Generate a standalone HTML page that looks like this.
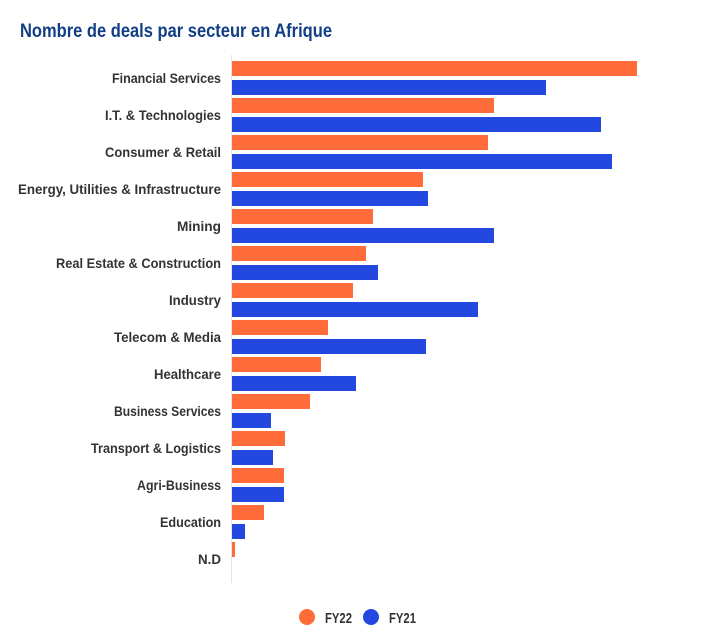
<!DOCTYPE html>
<html><head><meta charset="utf-8"><style>html,body{margin:0;padding:0;background:#fff}svg{display:block}</style></head>
<body>
<svg width="722" height="634" xmlns="http://www.w3.org/2000/svg" font-family="Liberation Sans, sans-serif" font-weight="bold">
<text x="20" y="37" font-size="19" fill="#123e86" textLength="312" lengthAdjust="spacingAndGlyphs">Nombre de deals par secteur en Afrique</text>
<line x1="231.5" y1="55" x2="231.5" y2="583" stroke="#e3e3e3" stroke-width="1"/>
<g font-size="14" fill="#333" text-anchor="end">
<text x="221" y="83" textLength="109" lengthAdjust="spacingAndGlyphs">Financial Services</text>
<text x="221" y="120" textLength="116" lengthAdjust="spacingAndGlyphs">I.T. &amp; Technologies</text>
<text x="221" y="157" textLength="116" lengthAdjust="spacingAndGlyphs">Consumer &amp; Retail</text>
<text x="221" y="194" textLength="203" lengthAdjust="spacingAndGlyphs">Energy, Utilities &amp; Infrastructure</text>
<text x="221" y="231" textLength="44" lengthAdjust="spacingAndGlyphs">Mining</text>
<text x="221" y="268" textLength="165" lengthAdjust="spacingAndGlyphs">Real Estate &amp; Construction</text>
<text x="221" y="305" textLength="52" lengthAdjust="spacingAndGlyphs">Industry</text>
<text x="221" y="342" textLength="107" lengthAdjust="spacingAndGlyphs">Telecom &amp; Media</text>
<text x="221" y="379" textLength="67" lengthAdjust="spacingAndGlyphs">Healthcare</text>
<text x="221" y="416" textLength="107" lengthAdjust="spacingAndGlyphs">Business Services</text>
<text x="221" y="453" textLength="130" lengthAdjust="spacingAndGlyphs">Transport &amp; Logistics</text>
<text x="221" y="490" textLength="84" lengthAdjust="spacingAndGlyphs">Agri-Business</text>
<text x="221" y="527" textLength="61" lengthAdjust="spacingAndGlyphs">Education</text>
<text x="221" y="564" textLength="23" lengthAdjust="spacingAndGlyphs">N.D</text>
</g>
<g fill="#ff6b39">
<rect x="232" y="61" width="405" height="15"/>
<rect x="232" y="98" width="262" height="15"/>
<rect x="232" y="135" width="256" height="15"/>
<rect x="232" y="172" width="191" height="15"/>
<rect x="232" y="209" width="141" height="15"/>
<rect x="232" y="246" width="134" height="15"/>
<rect x="232" y="283" width="121" height="15"/>
<rect x="232" y="320" width="96" height="15"/>
<rect x="232" y="357" width="89" height="15"/>
<rect x="232" y="394" width="78" height="15"/>
<rect x="232" y="431" width="53" height="15"/>
<rect x="232" y="468" width="52" height="15"/>
<rect x="232" y="505" width="32" height="15"/>
<rect x="232" y="542" width="3" height="15"/>
</g>
<g fill="#2348e0">
<rect x="232" y="80" width="314" height="15"/>
<rect x="232" y="117" width="369" height="15"/>
<rect x="232" y="154" width="380" height="15"/>
<rect x="232" y="191" width="196" height="15"/>
<rect x="232" y="228" width="262" height="15"/>
<rect x="232" y="265" width="146" height="15"/>
<rect x="232" y="302" width="246" height="15"/>
<rect x="232" y="339" width="194" height="15"/>
<rect x="232" y="376" width="124" height="15"/>
<rect x="232" y="413" width="39" height="15"/>
<rect x="232" y="450" width="41" height="15"/>
<rect x="232" y="487" width="52" height="15"/>
<rect x="232" y="524" width="13" height="15"/>
</g>
<circle cx="307" cy="617" r="8" fill="#ff6b39"/>
<text x="325" y="623" font-size="15" fill="#333" textLength="27" lengthAdjust="spacingAndGlyphs">FY22</text>
<circle cx="371" cy="617" r="8" fill="#2348e0"/>
<text x="389" y="623" font-size="15" fill="#333" textLength="27" lengthAdjust="spacingAndGlyphs">FY21</text>
</svg>
</body></html>
